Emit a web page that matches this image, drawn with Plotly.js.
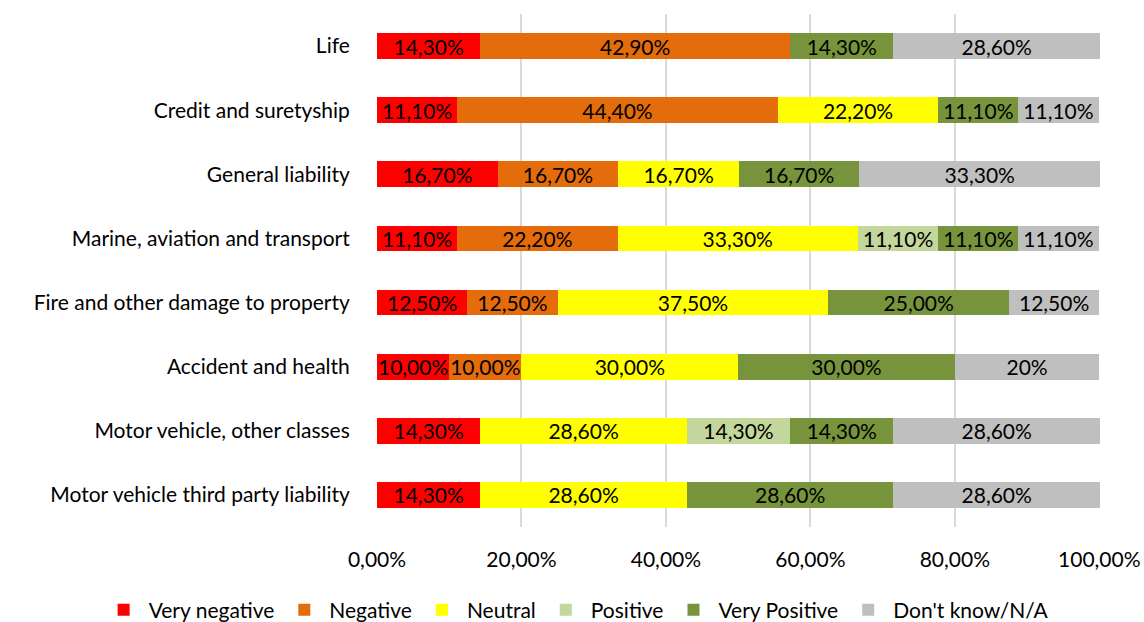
<!DOCTYPE html>
<html><head><meta charset="utf-8">
<script src="https://cdn.plot.ly/plotly-3.0.1.min.js"></script>
<style>html,body{margin:0;padding:0;background:#fff}#chart{width:1144px;height:622px}</style>
</head><body><div id="chart"></div>
<script>
const categories = ["Motor vehicle third party liability","Motor vehicle, other classes","Accident and health","Fire and other damage to property","Marine, aviation and transport","General liability","Credit and suretyship","Life"];
const seriesNames = ["Very negative","Negative","Neutral","Positive","Very Positive","Don't know/N/A"];
const veryNegative = [14.3,14.3,10,12.5,11.1,16.7,11.1,14.3];
const negative     = [0,0,10,12.5,22.2,16.7,44.4,42.9];
const neutral      = [28.6,28.6,30,37.5,33.3,16.7,22.2,0];
const positive     = [0,14.3,0,0,11.1,0,0,0];
const veryPositive = [28.6,14.3,30,25,11.1,16.7,11.1,14.3];
const dontKnow     = [28.6,28.6,20,12.5,11.1,33.3,11.1,28.6];
const dontKnowLabels = ["28,60%","28,60%","20%","12,50%","11,10%","33,30%","11,10%","28,60%"];
const colors = ["#FF0000","#E46C0A","#FFFF00","#C3D69B","#77933C","#BFBFBF"];
const tickVals = [0,20,40,60,80,100];
const tickText = ["0,00%","20,00%","40,00%","60,00%","80,00%","100,00%"];

const allSeries = [veryNegative,negative,neutral,positive,veryPositive,dontKnow];
const FONT = "Lato, 'Open Sans', sans-serif";
function fmt(v){ return v.toFixed(2).replace('.',',')+'%'; }

const traces = allSeries.map((vals,i)=>({
  type:'bar', orientation:'h', name:seriesNames[i], y:categories, x:vals,
  marker:{color:colors[i]},
  text: i===5 ? dontKnowLabels.map((t,j)=>vals[j]>0?t:'') : vals.map(v=>v>0?fmt(v):''),
  textposition:'inside', insidetextanchor:'middle', textangle:0, constraintext:'none',
  insidetextfont:{color:'#000', size:21, family:FONT},
  cliponaxis:false,
  hoverinfo:'none'
}));

const layout = {
  barmode:'stack', bargap:0.6,
  width:1144, height:622,
  margin:{l:377,r:44,t:14,b:95,autoexpand:false},
  paper_bgcolor:'#fff', plot_bgcolor:'#fff',
  font:{family:FONT, size:21, color:'#000'},
  xaxis:{range:[0,100.1], tickvals:tickVals, ticktext:tickText, showgrid:true, gridcolor:'#D9D9D9', gridwidth:2,
         zeroline:false, showline:false, ticks:'outside', ticklen:14, tickcolor:'rgba(0,0,0,0)', fixedrange:true, automargin:false},
  yaxis:{showgrid:false, zeroline:false, showline:false, ticks:'outside', ticklen:22, tickcolor:'rgba(0,0,0,0)', automargin:false},
  legend:{orientation:'h', x:-0.385, xanchor:'left', y:-0.162, yanchor:'middle', itemwidth:40,
          font:{size:21, family:FONT}, traceorder:'normal'},
  showlegend:true
};
Plotly.newPlot('chart', traces, layout, {staticPlot:true});
</script></body></html>
